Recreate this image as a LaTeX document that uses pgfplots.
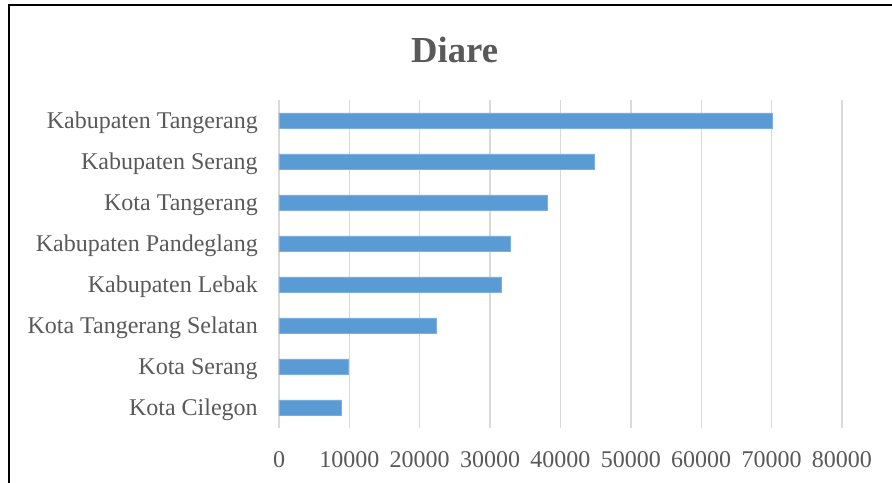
\documentclass[border=0pt]{standalone}
\usepackage{fontspec}
\setmainfont{Liberation Serif}
\usepackage{pgfplots}
\pgfplotsset{compat=1.18}
\definecolor{barblue}{HTML}{5B9BD5}
\definecolor{txtgray}{HTML}{595959}
\definecolor{gridgray}{HTML}{D9D9D9}
\begin{document}
\begin{tikzpicture}
\useasboundingbox (0,0) rectangle (669pt,-361.5pt);
\clip (0,0) rectangle (669pt,-361.5pt);
\draw[black, line width=1.6pt] (7pt,-370pt) -- (7pt,-3.75pt) -- (680pt,-3.75pt);
\node[anchor=base, text=txtgray, font=\fontsize{27.5pt}{30pt}\selectfont\bfseries] at (341pt,-46.5pt) {Diare};
\begin{axis}[
  at={(209.25pt,-321pt)}, anchor=south west,
  scale only axis, width=422.25pt, height=246pt,
  xbar, bar width=11.5pt,
  xmin=0, xmax=80000,
  ymin=-0.5, ymax=7.5,
  xtick={0,10000,...,80000},
  ytick={0,...,7},
  yticklabels={Kota Cilegon,Kota Serang,Kota Tangerang Selatan,Kabupaten Lebak,Kabupaten Pandeglang,Kota Tangerang,Kabupaten Serang,Kabupaten Tangerang},
  scaled x ticks=false,
  /pgf/number format/assume math mode=true,
  /pgf/number format/set thousands separator={},
  xmajorgrids, grid style={gridgray, line width=1pt},
  axis line style={draw=none},
  major tick length=0pt,
  tick label style={text=txtgray, font=\fontsize{18pt}{20pt}\selectfont, inner sep=0pt},
  xticklabel style={anchor=base, yshift=-29.5pt},
  yticklabel style={anchor=base east, xshift=-15.75pt, yshift=-5.8pt},
]
\addplot[fill=barblue, draw=barblue!80!white, line width=0.4pt] coordinates {
  (8800,0) (9900,1) (22300,2) (31600,3) (32900,4) (38100,5) (44800,6) (70100,7)
};
\end{axis}
\end{tikzpicture}
\end{document}
